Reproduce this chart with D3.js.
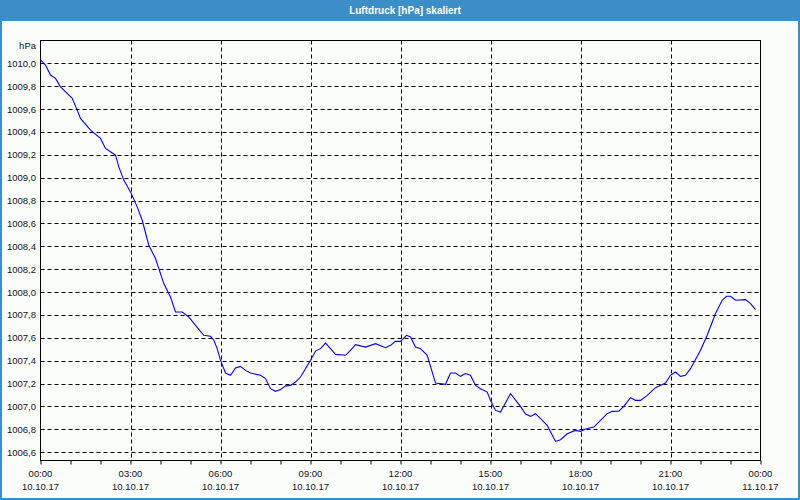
<!DOCTYPE html>
<html>
<head>
<meta charset="utf-8">
<script src="https://cdn.jsdelivr.net/npm/d3@7/dist/d3.min.js"></script>
<style>
html,body{margin:0;padding:0;background:#fbfdfb;}
svg{display:block;}
</style>
</head>
<body>
<svg id="c" width="800" height="500"></svg>
<script>
// Data: hours since 10.10.17 00:00 and pressure in hPa
const hours = [0,0.167,0.333,0.5,0.667,1.057,1.223,1.333,1.667,2.0,2.167,2.5,2.61,2.777,3.0,3.223,3.39,3.61,3.833,4.11,4.333,4.5,4.723,4.943,5.167,5.443,5.667,5.777,5.89,6.0,6.167,6.333,6.5,6.667,6.833,7.0,7.333,7.5,7.667,7.833,8.0,8.167,8.333,8.5,8.667,8.833,9.0,9.167,9.333,9.5,9.667,9.833,10.167,10.333,10.5,10.833,11.167,11.5,11.667,11.833,12.0,12.2,12.333,12.5,12.667,12.89,13.167,13.5,13.667,13.833,14.0,14.167,14.333,14.5,14.667,14.89,15.0,15.167,15.333,15.667,16.0,16.167,16.333,16.5,16.667,16.89,17.167,17.333,17.557,17.833,18.0,18.167,18.443,18.89,19.057,19.277,19.443,19.667,19.833,20.0,20.223,20.5,20.833,21.0,21.167,21.333,21.5,21.667,22.0,22.223,22.5,22.723,22.867,23.0,23.167,23.5,23.667,23.833];
const pressure = [1010.03,1009.985,1009.898,1009.869,1009.795,1009.694,1009.591,1009.519,1009.416,1009.344,1009.256,1009.197,1009.095,1008.979,1008.876,1008.745,1008.628,1008.410,1008.293,1008.074,1007.957,1007.826,1007.826,1007.782,1007.709,1007.622,1007.613,1007.579,1007.505,1007.403,1007.292,1007.272,1007.336,1007.350,1007.315,1007.292,1007.272,1007.243,1007.155,1007.132,1007.147,1007.180,1007.184,1007.213,1007.257,1007.329,1007.403,1007.484,1007.505,1007.554,1007.505,1007.455,1007.447,1007.490,1007.540,1007.519,1007.549,1007.514,1007.534,1007.569,1007.569,1007.622,1007.607,1007.519,1007.505,1007.447,1007.204,1007.193,1007.292,1007.292,1007.263,1007.287,1007.272,1007.184,1007.155,1007.125,1007.053,1006.965,1006.950,1007.111,1007.000,1006.933,1006.913,1006.936,1006.893,1006.834,1006.694,1006.709,1006.761,1006.790,1006.782,1006.802,1006.819,1006.936,1006.957,1006.959,1007.000,1007.077,1007.053,1007.053,1007.097,1007.164,1007.204,1007.272,1007.301,1007.263,1007.272,1007.330,1007.491,1007.622,1007.812,1007.928,1007.963,1007.963,1007.928,1007.934,1007.899,1007.846];

const yTicks = [1006.6,1006.8,1007.0,1007.2,1007.4,1007.6,1007.8,1008.0,1008.2,1008.4,1008.6,1008.8,1009.0,1009.2,1009.4,1009.6,1009.8,1010.0];
const xTicks = [0,3,6,9,12,15,18,21,24];
const xTimeLabels = ["00:00","03:00","06:00","09:00","12:00","15:00","18:00","21:00","00:00"];
const xDateLabels = ["10.10.17","10.10.17","10.10.17","10.10.17","10.10.17","10.10.17","10.10.17","10.10.17","11.10.17"];
const xMinorTicks = d3.range(0, 25, 1);
const title = "Luftdruck [hPa] skaliert";
const unit = "hPa";
const yDomain = [1006.527, 1010.2];
const xDomain = [0, 24];

const svg = d3.select("#c");
const W = 800, H = 500;
const L = 40.5, R = 760.5, T = 40.5, B = 460.5;
const FONT = "'Liberation Sans', Arial, sans-serif";

// frame
svg.append("rect").attr("x",0).attr("y",0).attr("width",W).attr("height",H).attr("fill","#fbfdfb");
svg.append("rect").attr("x",0).attr("y",0).attr("width",W).attr("height",21).attr("fill","#3c8fc6");
svg.append("rect").attr("x",0).attr("y",0).attr("width",2).attr("height",H).attr("fill","#3c8fc6");
svg.append("rect").attr("x",W-2).attr("y",0).attr("width",2).attr("height",H).attr("fill","#3c8fc6");
svg.append("rect").attr("x",0).attr("y",H-2).attr("width",W).attr("height",2).attr("fill","#3c8fc6");
svg.append("text").attr("x",405).attr("y",14).attr("text-anchor","middle")
  .attr("font-family",FONT).attr("font-size","10px").attr("font-weight","bold")
  .attr("fill","#ffffff").text(title);

const x = d3.scaleLinear().domain(xDomain).range([L, R]);
const y = d3.scaleLinear().domain(yDomain).range([B, T]);

// grid
const g = svg.append("g");
g.selectAll("line.h").data(yTicks).enter().append("line")
  .attr("x1",L).attr("x2",R)
  .attr("y1",d=>Math.round(y(d))+0.5).attr("y2",d=>Math.round(y(d))+0.5)
  .attr("stroke","#000").attr("stroke-width",1).attr("stroke-dasharray","4,3");
g.selectAll("line.v").data(xTicks.slice(1,-1)).enter().append("line")
  .attr("x1",d=>Math.round(x(d))+0.5).attr("x2",d=>Math.round(x(d))+0.5)
  .attr("y1",T).attr("y2",B)
  .attr("stroke","#000").attr("stroke-width",1).attr("stroke-dasharray","4,3");

// line
const line = d3.line().x((d,i)=>x(hours[i])).y(d=>y(d));
svg.append("path").datum(pressure).attr("d",line)
  .attr("fill","none").attr("stroke","#0000ff").attr("stroke-width",1.1);

// border
svg.append("rect").attr("x",L).attr("y",T).attr("width",R-L).attr("height",B-T)
  .attr("fill","none").attr("stroke","#000").attr("stroke-width",1);

// x axis minor ticks
const xAxis = d3.axisBottom(x).tickValues(xMinorTicks).tickSize(4).tickFormat("");
const xa = svg.append("g").attr("transform",`translate(0,${B})`).call(xAxis);
xa.select(".domain").remove();
xa.selectAll("line").attr("stroke","#000");

// x labels
const lab = svg.append("g").attr("font-family",FONT).attr("font-size","9.5px").attr("fill","#101020").attr("text-anchor","middle");
lab.selectAll("text.t").data(xTicks).enter().append("text")
  .attr("x",d=>x(d)).attr("y",477).text((d,i)=>xTimeLabels[i]);
lab.selectAll("text.d").data(xTicks).enter().append("text")
  .attr("x",d=>x(d)).attr("y",490).text((d,i)=>xDateLabels[i]);

// y labels
const fmt = d3.format(".1f");
const yl = svg.append("g").attr("font-family",FONT).attr("font-size","9.5px").attr("fill","#101020").attr("text-anchor","end");
yl.selectAll("text").data(yTicks).enter().append("text")
  .attr("x",36).attr("y",d=>y(d)+3.5).text(d=>fmt(d).replace(".",","));
yl.append("text").attr("x",36).attr("y",49).text(unit);
</script>
</body>
</html>
